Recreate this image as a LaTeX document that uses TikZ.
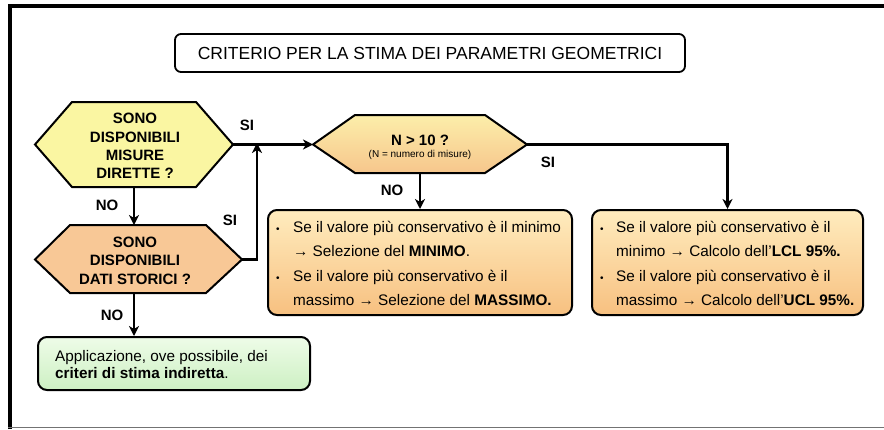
\documentclass[tikz,border=0pt]{standalone}
\usepackage{fontspec}
\setmainfont{Liberation Sans}
\usetikzlibrary{arrows.meta,calc}
\definecolor{hexyel}{RGB}{250,246,162}
\definecolor{hexora}{RGB}{248,200,150}
\definecolor{hthree}{RGB}{252,238,170}
\definecolor{hthreeb}{RGB}{246,198,140}
\definecolor{boxtop}{RGB}{255,236,190}
\definecolor{boxbot}{RGB}{247,192,128}
\definecolor{grtop}{RGB}{238,252,232}
\definecolor{grbot}{RGB}{205,240,195}
\definecolor{framegray}{RGB}{115,115,115}
\begin{document}
\begin{tikzpicture}[x=1pt,y=-1pt,
  conn/.style={line width=2.4pt,-{Stealth[length=10pt,width=10pt,inset=3pt]}},
  plainline/.style={line width=2.4pt},
  hexbord/.style={draw=black,line width=2pt,line join=miter},
  roundbox/.style={draw=black,line width=2pt,rounded corners=9pt,inner sep=0pt},
  lbl/.style={font=\fontsize{15}{15}\selectfont\bfseries,inner sep=0pt},
  hextxt/.style={font=\fontsize{15}{15}\selectfont\bfseries,anchor=base,inner sep=0pt},
  body/.style={font=\fontsize{15.3}{18}\selectfont,anchor=base west,inner sep=0pt},
  bul/.style={font=\fontsize{10}{10}\selectfont,anchor=base west,inner sep=0pt},
]
\useasboundingbox (0,0) rectangle (884,429);
% frame
\draw[line width=4pt,line join=miter] (10.3,429) -- (10.3,6) -- (884,6);
\draw[framegray,line width=1.5pt] (8.3,427.5) -- (884,427.5);

% title
\node[draw=black,line width=1.8pt,rounded corners=6pt,minimum width=510pt,minimum height=38pt,inner sep=0pt,
  font=\fontsize{17.5}{17.5}\selectfont] (title) at (430,53) {CRITERIO PER LA STIMA DEI PARAMETRI GEOMETRICI};

% hexagon 1
\coordinate (h1W) at (35,144.5);
\coordinate (h1E) at (233,144.5);
\coordinate (h1S) at (134,187);
\draw[hexbord,fill=hexyel] (h1W) -- (72,102) -- (196,102) -- (h1E) -- (196,187) -- (72,187) -- cycle;
\node[hextxt] (h1a) at (135,123.7) {SONO};
\node[hextxt] (h1b) at (135,142) {DISPONIBILI};
\node[hextxt] (h1c) at (135,160.4) {MISURE};
\node[hextxt] (h1d) at (135,178.7) {DIRETTE ?};

% hexagon 2
\coordinate (h2N) at (134,225);
\coordinate (h2E) at (242,259.5);
\coordinate (h2S) at (134,293);
\draw[hexbord,fill=hexora] (35,259.5) -- (70,225) -- (206,225) -- (h2E) -- (206,293) -- (70,293) -- cycle;
\node[hextxt] (h2a) at (135,247) {SONO};
\node[hextxt] (h2b) at (135,265.4) {DISPONIBILI};
\node[hextxt] (h2c) at (135,284.7) {DATI STORICI ?};

% hexagon 3
\coordinate (h3W) at (313,144.5);
\coordinate (h3E) at (527,144.5);
\coordinate (h3S) at (420,173);
\draw[hexbord,top color=hthree,bottom color=hthreeb] (h3W) -- (355,115) -- (485,115) -- (h3E) -- (485,173) -- (355,173) -- cycle;
\node[hextxt] (h3a) at (420,145.5) {N > 10 ?};
\node[font=\fontsize{10}{10}\selectfont,anchor=base,inner sep=0pt] (h3b) at (420,157.5) {(N = numero di misure)};

% boxes
\node[roundbox,top color=boxtop,bottom color=boxbot,minimum width=304pt,minimum height=105pt] (box2) at (420,262.5) {};
\node[roundbox,top color=boxtop,bottom color=boxbot,minimum width=271pt,minimum height=105pt] (box3) at (727.5,262.5) {};
\node[roundbox,top color=grtop,bottom color=grbot,minimum width=272pt,minimum height=53pt] (box1) at (174,363.5) {};

% box2 text
\node[bul] (b2p1) at (276,232.5) {•};
\node[body] (b2a) at (293,232.5) {Se il valore più conservativo è il minimo};
\node[body] (b2b) at (293,256.8) {→ Selezione del \textbf{MINIMO}.};
\node[bul] (b2p2) at (276,281) {•};
\node[body] (b2c) at (293,281) {Se il valore più conservativo è il};
\node[body] (b2d) at (293,305.3) {massimo → Selezione del \textbf{MASSIMO.}};

% box3 text
\node[bul] (b3p1) at (600,232.5) {•};
\node[body] (b3a) at (616,232.5) {Se il valore più conservativo è il};
\node[body] (b3b) at (616,256.8) {minimo → Calcolo dell’\textbf{LCL 95\%.}};
\node[bul] (b3p2) at (600,281) {•};
\node[body] (b3c) at (616,281) {Se il valore più conservativo è il};
\node[body] (b3d) at (616,305.3) {massimo → Calcolo dell’\textbf{UCL 95\%.}};

% box1 text
\node[body] (b1a) at (55,361) {Applicazione, ove possibile, dei};
\node[body] (b1b) at (55,378) {\textbf{criteri di stima indiretta}.};

% connectors
\coordinate (j1) at (257,144.5);
\draw[conn] (h1E) -- (h3W);
\draw[conn] (h1S) -- (h2N);
\draw[conn] (h2E) -- (h2E -| j1) -- ([yshift=1.5pt]j1);
\draw[conn] (h2S) -- (h2S |- box1.north);
\draw[conn] (h3S) -- (box2.north);
\draw[conn] (h3E) -- (h3E -| box3.north) -- (box3.north);

% labels
\node[lbl] (l1) at (247,125) {SI};
\node[lbl] (l2) at (230,220) {SI};
\node[lbl] (l3) at (107,205) {NO};
\node[lbl] (l4) at (112,315) {NO};
\node[lbl] (l5) at (392,190) {NO};
\node[lbl] (l6) at (548,162) {SI};
\end{tikzpicture}
\end{document}
